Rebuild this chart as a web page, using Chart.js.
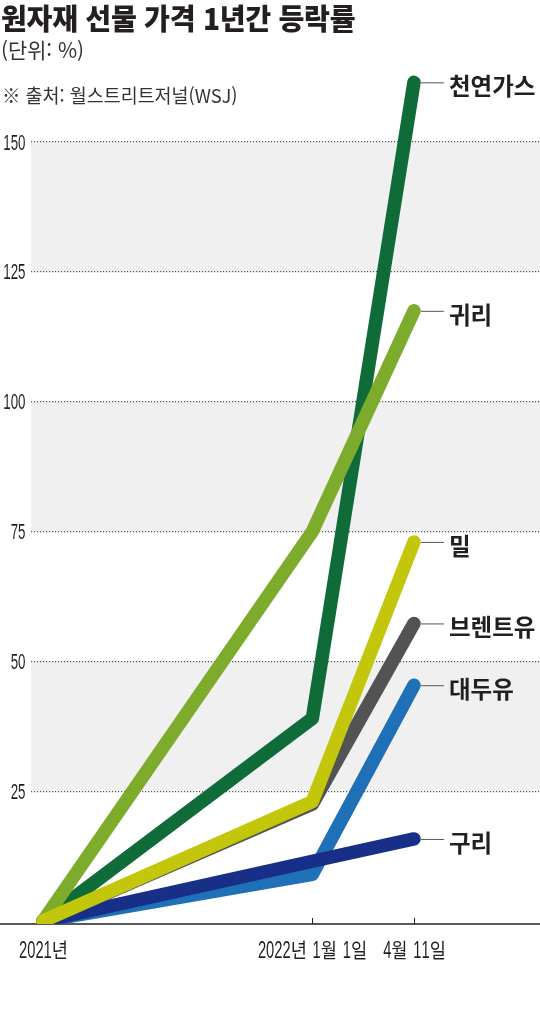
<!DOCTYPE html>
<html lang="ko">
<head>
<meta charset="utf-8">
<script src="https://cdn.jsdelivr.net/npm/chart.js@4"></script>
<style>
html,body{margin:0;padding:0;background:#fff;}
#wrap{position:relative;width:540px;height:1029px;overflow:hidden;}
#c{position:absolute;left:0;top:0;}
.t{position:absolute;left:1px;white-space:nowrap;font-family:'Noto Sans CJK KR',sans-serif;color:#231f20;line-height:1;transform-origin:0 0;}
#title{top:3px;font-size:29px;font-weight:900;transform:scaleX(0.97);letter-spacing:-0.3px;}
#unit{top:39px;font-size:21px;color:#333;transform:scaleX(0.99);}
#src{top:85px;left:2px;font-size:19px;color:#333;transform:scaleX(0.97);}
</style>
</head>
<body>
<div id="wrap">
<canvas id="c" width="540" height="1029"></canvas>
<div class="t" id="title">원자재 선물 가격 1년간 등락률</div>
<div class="t" id="unit">(단위: %)</div>
<div class="t" id="src">※ 출처: 월스트리트저널(WSJ)</div>
</div>
<script>
// ---- data ----
const xLabels = ['2021년', '2022년 1월 1일', '4월 11일'];
const xDays = [0, 265, 365];
const seriesNames = ['천연가스', '귀리', '밀', '브렌트유', '대두유', '구리'];
const gas = [0, 39, 161.5];
const oats = [0, 75, 117.5];
const wheat = [0, 23, 73];
const brent = [0, 22.5, 57.3];
const soyOil = [0, 9, 45.4];
const copper = [0, 11.5, 15.8];
const yTicks = [25, 50, 75, 100, 125, 150];
const bands = [[125, 150], [75, 100], [25, 50]];

// ---- styles ----
const seriesColors = ['#0f6b38', '#7dac2c', '#c3c70b', '#545354', '#1f70b6', '#182f88'];
const drawOrder = [2, 1, 0, 3, 5, 4];
const ink = '#231f20';
const latinFamily = "'Liberation Sans', Arial, sans-serif";
const hangulFamily = "'Noto Sans CJK KR', sans-serif";

const seriesValues = [gas, oats, wheat, brent, soyOil, copper];
const datasets = seriesNames.map((name, i) => ({
  label: name,
  data: xDays.map((d, j) => ({ x: d, y: seriesValues[i][j] })),
  borderColor: seriesColors[i],
  backgroundColor: seriesColors[i],
  borderWidth: 13.5,
  borderCapStyle: 'round',
  borderJoinStyle: 'round',
  pointRadius: 0,
  pointHoverRadius: 0,
  tension: 0,
  fill: false,
  order: drawOrder[i]
}));

const bandPlugin = {
  id: 'bands',
  beforeDraw(chart) {
    const { ctx, chartArea, scales } = chart;
    ctx.save();
    ctx.fillStyle = '#f0f0f0';
    bands.forEach(([lo, hi]) => {
      const yTop = scales.y.getPixelForValue(hi);
      const yBot = scales.y.getPixelForValue(lo);
      ctx.fillRect(chartArea.left, yTop, chartArea.right - chartArea.left, yBot - yTop);
    });
    ctx.restore();
  }
};

// condensed tick text: digits squeezed more than hangul, like the newspaper face
function runs(text) {
  return Array.from(text).map(ch => /[0-9]/.test(ch) ? { ch, digit: true } : { ch, digit: false });
}
function squashedText(ctx, text, x, y, align, size, digitSquash, otherSquash) {
  ctx.save();
  ctx.textBaseline = 'alphabetic';
  ctx.textAlign = 'left';
  const parts = runs(text).map(p => {
    ctx.font = (p.digit ? size + 'px ' + latinFamily : (size * 0.9) + 'px ' + hangulFamily);
    const sq = p.digit ? digitSquash : (p.ch === ' ' ? 1 : otherSquash);
    return { ...p, font: ctx.font, sq, w: ctx.measureText(p.ch).width * sq };
  });
  const total = parts.reduce((a, p) => a + p.w, 0);
  let cx = align === 'right' ? x - total : align === 'center' ? x - total / 2 : x;
  parts.forEach(p => {
    ctx.save();
    ctx.font = p.font;
    ctx.translate(cx, y);
    ctx.scale(p.sq, 1);
    ctx.fillText(p.ch, 0, 0);
    ctx.restore();
    cx += p.w;
  });
  ctx.restore();
}

const axisPlugin = {
  id: 'axisLine',
  beforeDatasetsDraw(chart) {
    const { ctx, scales } = chart;
    const y0 = scales.x.top;
    ctx.save();
    ctx.strokeStyle = ink;
    ctx.fillStyle = ink;
    ctx.lineWidth = 1.3;
    ctx.beginPath();
    ctx.moveTo(0, y0);
    ctx.lineTo(chart.width, y0);
    ctx.stroke();
    ctx.lineWidth = 1;
    scales.x.ticks.forEach((t, i) => {
      const px = Math.round(scales.x.getPixelForValue(t.value)) + 0.5;
      ctx.beginPath();
      ctx.moveTo(px, y0);
      ctx.lineTo(px, y0 - 6);
      ctx.stroke();
      squashedText(ctx, xLabels[i], px, y0 + 34, 'center', 23, 0.64, 0.85);
    });
    scales.y.ticks.forEach(t => {
      const py = scales.y.getPixelForValue(t.value);
      squashedText(ctx, String(t.value), scales.y.right - 5.5, py + 7.5, 'right', 21.5, 0.62, 1);
    });
    ctx.restore();
  }
};

const endLabelPlugin = {
  id: 'endLabels',
  afterDatasetsDraw(chart) {
    const { ctx } = chart;
    ctx.save();
    chart.data.datasets.forEach((ds, i) => {
      const meta = chart.getDatasetMeta(i);
      const pt = meta.data[meta.data.length - 1];
      ctx.strokeStyle = '#555';
      ctx.lineWidth = 1;
      ctx.beginPath();
      ctx.moveTo(pt.x + 7, pt.y + 0.5);
      ctx.lineTo(pt.x + 30, pt.y + 0.5);
      ctx.stroke();
      ctx.fillStyle = ink;
      ctx.font = "700 23.5px 'Noto Sans CJK KR', sans-serif";
      ctx.textAlign = 'left';
      ctx.textBaseline = 'middle';
      ctx.fillText(ds.label, pt.x + 35, pt.y + 4);
    });
    ctx.restore();
  }
};

new Chart(document.getElementById('c'), {
  type: 'line',
  data: { datasets },
  plugins: [bandPlugin, axisPlugin, endLabelPlugin],
  options: {
    responsive: false,
    animation: false,
    events: [],
    layout: { padding: { top: 60, left: 0, right: 0, bottom: 0 } },
    plugins: { legend: { display: false }, tooltip: { enabled: false }, title: { display: false } },
    scales: {
      x: {
        type: 'linear',
        min: -11.8,
        max: 489,
        afterBuildTicks: s => { s.ticks = xDays.map(v => ({ value: v })); },
        afterFit: s => { s.height = 105; },
        grid: { display: false, drawTicks: false },
        border: { display: false },
        ticks: { display: false, autoSkip: false }
      },
      y: {
        type: 'linear',
        min: -0.58,
        max: 165.8,
        afterBuildTicks: s => { s.ticks = yTicks.map(v => ({ value: v })); },
        afterFit: s => { s.width = 31; },
        grid: { color: '#555', lineWidth: 1.2, drawTicks: false, borderDash: [1.2, 1.8] },
        border: { display: false, dash: [1.2, 1.8] },
        ticks: { display: false }
      }
    }
  }
});
</script>
</body>
</html>
